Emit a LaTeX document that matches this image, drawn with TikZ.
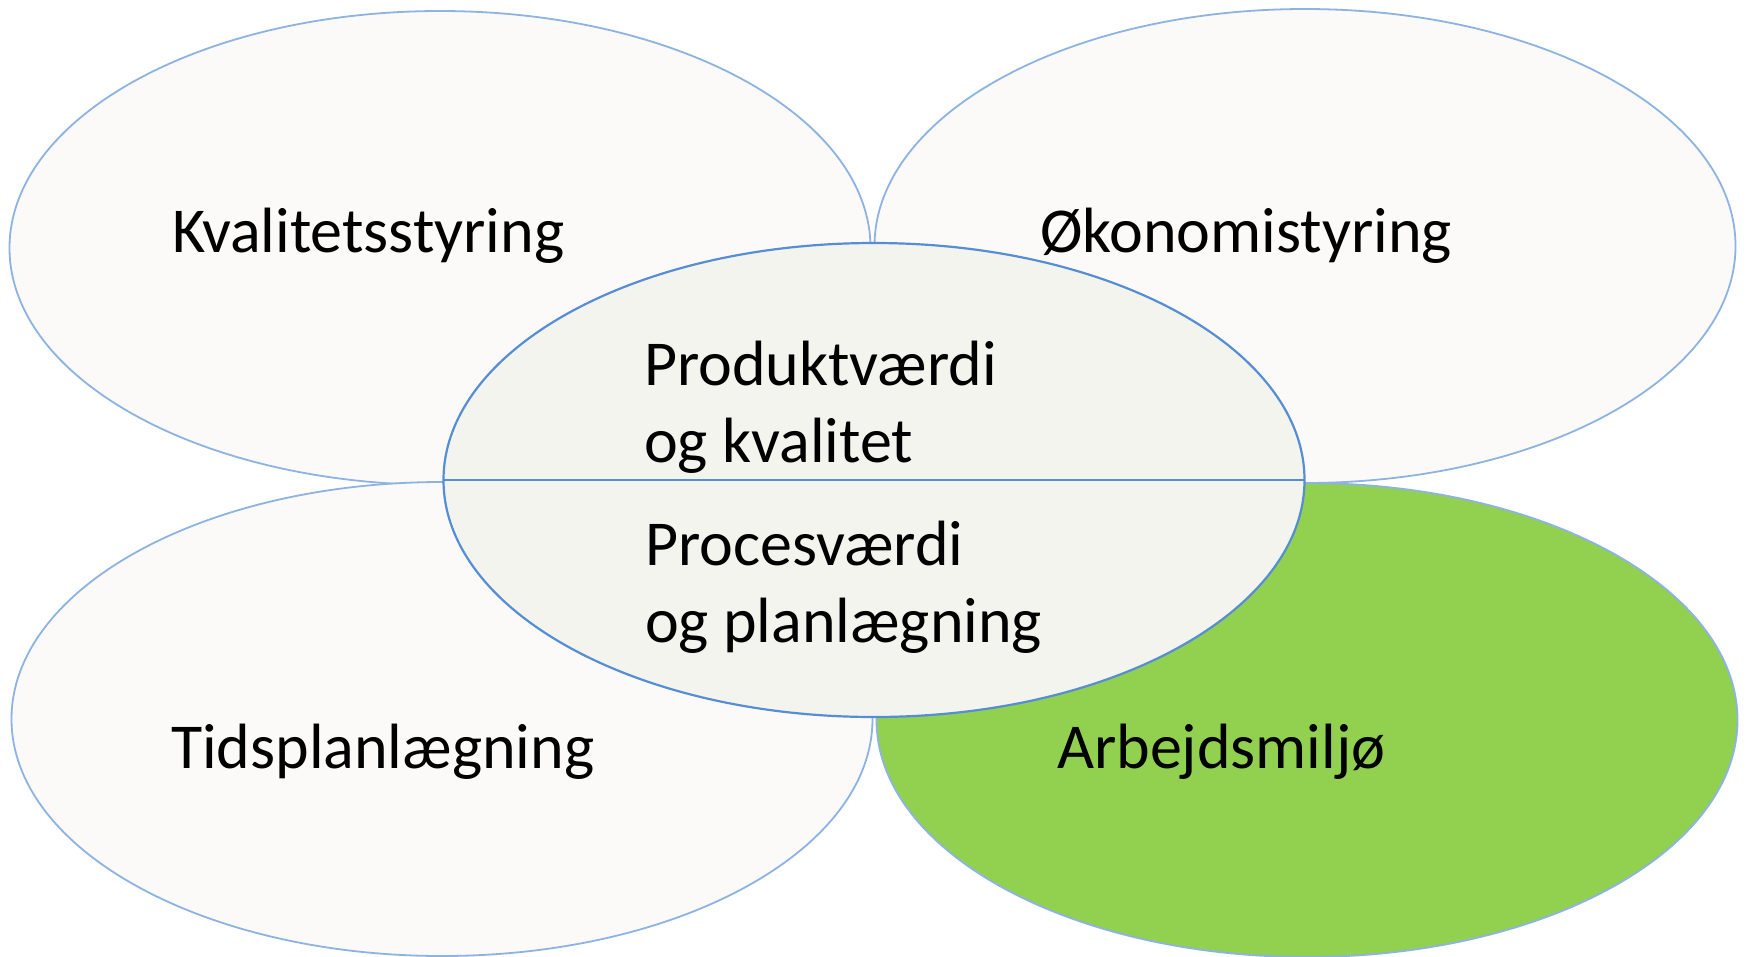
\documentclass[tikz,border=0pt]{standalone}
\usepackage{fontspec}
\setmainfont{Carlito}
\usetikzlibrary{shapes.geometric}
\definecolor{petalfill}{HTML}{FBFAF8}
\definecolor{petalline}{HTML}{8DB3E2}
\definecolor{corefill}{HTML}{F4F4EE}
\definecolor{coreline}{HTML}{558ED5}
\definecolor{miljogreen}{HTML}{92D050}
\begin{document}
\begin{tikzpicture} [
  x=1pt, y=-1pt,
  petal/.style={ellipse, draw=petalline, line width=1.8pt, fill=petalfill,
    minimum width=861pt, minimum height=474pt, inner sep=0pt, outer sep=0pt},
  core/.style={petal, draw=coreline, line width=2.2pt, fill=corefill},
  lbl/.style={inner sep=0pt, outer sep=0pt, anchor=base west, align=left,
    font=\fontsize{64}{77}\selectfont}]
\useasboundingbox (0,0) rectangle (1747,956);
% outer ellipses
\node[petal] (kval) at (440,248) {};
\node[petal] (okon) at (1305,246) {};
\node[petal] (tids) at (442,719) {};
\node[petal, fill=miljogreen] (miljo) at (1307,720) {};
% centre
\node[core] (mid) at (874,480) {};
\draw[coreline, line width=2.2pt] (mid.west) -- (mid.east);
% labels
\node[lbl] (kvaltxt) at (172,252) {Kvalitetsstyring};
\node[lbl] (okontxt) at (1040,252) {Økonomistyring};
\node[lbl] (tidstxt) at (171,768) {Tidsplanlægning};
\node[lbl] (miljotxt) at (1057,768) {Arbejdsmiljø};
\node[lbl] (produkt) at (644,462) {Produktværdi\\og kvalitet};
\node[lbl] (proces) at (645,642) {Procesværdi\\og planlægning};
\end{tikzpicture}
\end{document}
